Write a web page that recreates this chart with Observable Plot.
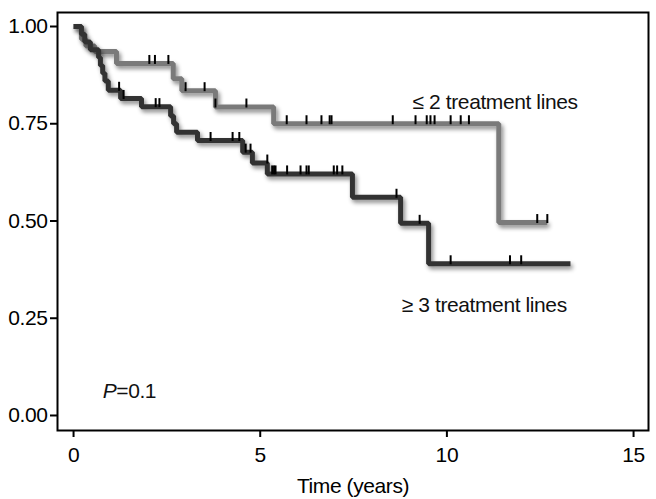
<!DOCTYPE html>
<html><head><meta charset="utf-8">
<script src="https://cdn.jsdelivr.net/npm/d3@7"></script>
<script src="https://cdn.jsdelivr.net/npm/@observablehq/plot@0.6"></script>
<style>
html,body{margin:0;padding:0;background:#fff;}
#chart svg{display:block;}
#chart svg text{letter-spacing:-0.4px;}
</style></head><body><div id="chart"></div>
<script>
// ≤ 2 treatment lines (light curve)
const lowTimes = [0, 0.21, 0.33, 0.57, 1.15, 2.67, 2.9, 3.8, 5.36, 11.39, 12.69];
const lowSurv  = [1, 0.967, 0.95, 0.936, 0.905, 0.866, 0.835, 0.793, 0.75, 0.496, 0.496];
const lowCensT = [2.03, 2.18, 2.54, 3.0, 3.51, 3.8, 4.63, 5.71, 6.24, 6.64, 6.86, 6.91, 8.55, 9.16, 9.46, 9.56, 9.67, 10.1, 10.37, 10.59, 12.42, 12.69];
const lowCensS = [0.905, 0.905, 0.905, 0.835, 0.835, 0.793, 0.793, 0.75, 0.75, 0.75, 0.75, 0.75, 0.75, 0.75, 0.75, 0.75, 0.75, 0.75, 0.75, 0.75, 0.496, 0.496];

// ≥ 3 treatment lines (dark curve)
const highTimes = [0, 0.21, 0.3, 0.45, 0.67, 0.72, 0.78, 0.84, 0.93, 1.26, 1.82, 2.6, 2.68, 2.76, 3.32, 4.53, 4.79, 5.19, 7.47, 8.76, 9.51, 13.31];
const highSurv  = [1, 0.98, 0.96, 0.94, 0.92, 0.90, 0.88, 0.86, 0.836, 0.815, 0.794, 0.77, 0.75, 0.728, 0.707, 0.677, 0.649, 0.621, 0.561, 0.494, 0.39, 0.39];
const highCensT = [1.22, 1.34, 2.2, 2.3, 3.67, 4.26, 4.44, 4.61, 4.74, 5.19, 5.32, 5.37, 5.41, 5.72, 6.08, 6.24, 6.3, 6.97, 7.06, 7.2, 8.65, 9.27, 10.1, 11.69, 11.99];
const highCensS = [0.836, 0.815, 0.794, 0.794, 0.707, 0.707, 0.707, 0.677, 0.677, 0.649, 0.621, 0.621, 0.621, 0.621, 0.621, 0.621, 0.621, 0.621, 0.621, 0.621, 0.561, 0.494, 0.39, 0.39, 0.39];

const xTicks = [0, 5, 10, 15];
const yTicks = [0, 0.25, 0.5, 0.75, 1];
const labelTexts = ["\u2264 2 treatment lines", "\u2265 3 treatment lines", "P=0.1"];
const labelT = [9.08, 8.79, 0.78];
const labelS = [0.805, 0.283, 0.062];

const low = lowTimes.map((t, i) => ({t, s: lowSurv[i]}));
const high = highTimes.map((t, i) => ({t, s: highSurv[i]}));
const lowC = lowCensT.map((t, i) => ({t, s: lowCensS[i]}));
const highC = highCensT.map((t, i) => ({t, s: highCensS[i]}));
const labels = labelTexts.map((text, i) => ({text, t: labelT[i], s: labelS[i]}));

const font = "'Liberation Sans', Arial, sans-serif";

const chart = Plot.plot({
  width: 656,
  height: 499,
  marginLeft: 57,
  marginRight: 8,
  marginTop: 12,
  marginBottom: 69,
  style: {fontFamily: font, fontSize: "21px", color: "#000", background: "#fff"},
  x: {domain: [-0.43, 15.4]},
  y: {domain: [-0.0386, 1.036]},
  marks: [
    Plot.axisX({ticks: xTicks, tickSize: 7, tickPadding: 10, strokeWidth: 2, label: "Time (years)", labelAnchor: "center", labelArrow: "none", labelOffset: 62}),
    Plot.axisY({ticks: yTicks, tickSize: 7, tickPadding: 3, strokeWidth: 2, tickFormat: d3.format(".2f"), label: null}),
    Plot.line(low, {x: "t", y: "s", curve: "step-after", stroke: "#7a7a7a", strokeWidth: 5, strokeLinejoin: "miter", strokeLinecap: "butt", ariaDescription: "km-curve"}),
    Plot.line(high, {x: "t", y: "s", curve: "step-after", stroke: "#333333", strokeWidth: 5, strokeLinejoin: "miter", strokeLinecap: "butt", ariaDescription: "km-curve"}),
    Plot.ruleX(lowC, {x: "t", y1: "s", y2: "s", insetTop: -8, insetBottom: -1, stroke: "#000", strokeWidth: 2}),
    Plot.ruleX(highC, {x: "t", y1: "s", y2: "s", insetTop: -8, insetBottom: -1, stroke: "#000", strokeWidth: 2}),
    Plot.text(labels, {x: "t", y: "s", text: "text", textAnchor: "start", lineAnchor: "middle", fill: "#111", fontSize: 21, ariaDescription: "annot"}),
    Plot.frame({stroke: "#000", strokeWidth: 2})
  ]
});

// drop shadow for the survival curves
const ns = "http://www.w3.org/2000/svg";
const defs = document.createElementNS(ns, "defs");
defs.innerHTML = '<filter id="kmShadow" x="-10%" y="-10%" width="130%" height="140%"><feDropShadow dx="2" dy="3" stdDeviation="2" flood-color="#000" flood-opacity="0.45"/></filter>';
chart.insertBefore(defs, chart.firstChild);
chart.querySelectorAll('g[aria-description="km-curve"]').forEach(g => g.setAttribute("filter", "url(#kmShadow)"));
// italic P
chart.querySelectorAll('g[aria-description="annot"] text').forEach(t => {
  if (t.textContent === "P=0.1") t.innerHTML = '<tspan font-style="italic">P</tspan>=0.1';
});
document.getElementById("chart").appendChild(chart);
</script>
</body></html>
